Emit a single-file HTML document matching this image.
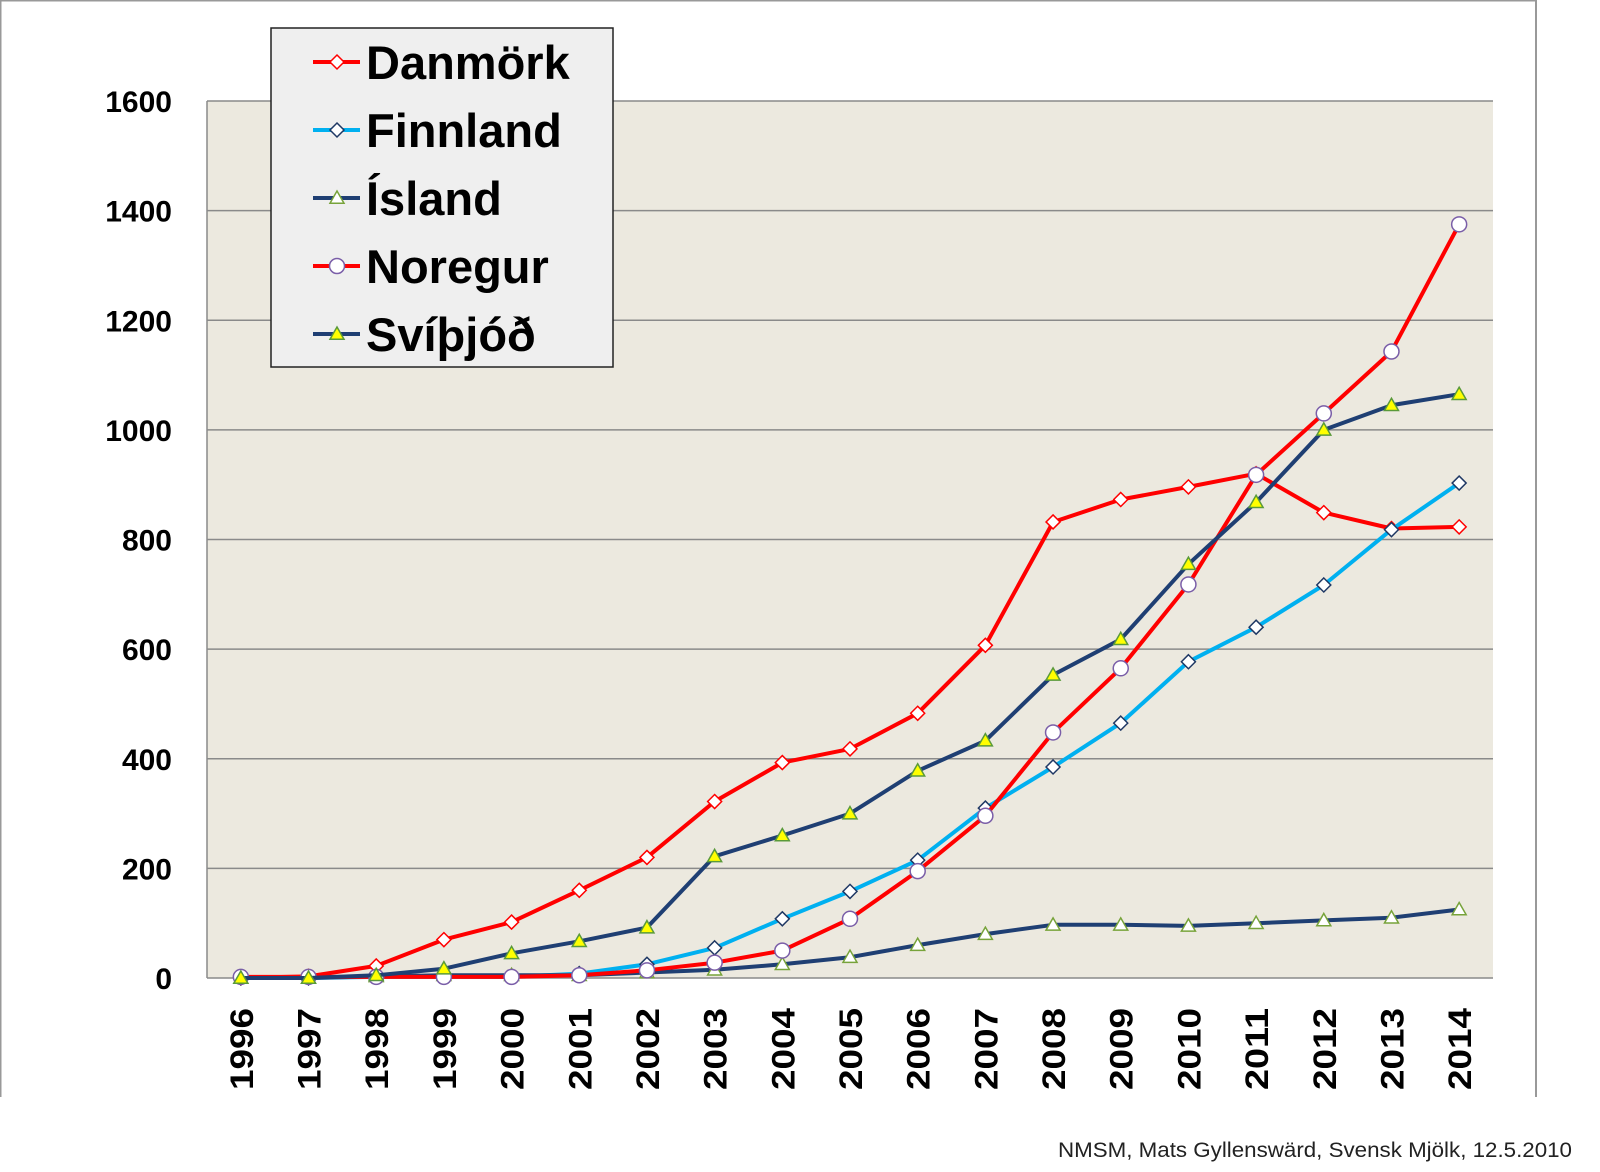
<!DOCTYPE html>
<html><head><meta charset="utf-8"><style>
html,body{margin:0;padding:0;background:#fff;}
svg{display:block;}
</style></head><body>
<svg id="c" width="1600" height="1172" xmlns="http://www.w3.org/2000/svg" font-family="Liberation Sans, Arial, sans-serif">
<line x1="0" y1="0.5" x2="1536" y2="0.5" stroke="#999" stroke-width="2"/>
<line x1="0.5" y1="0" x2="0.5" y2="1097" stroke="#999" stroke-width="2"/>
<line x1="1536" y1="0" x2="1536" y2="1097" stroke="#999" stroke-width="2"/>
<rect x="207" y="101" width="1286" height="877" fill="#ece9df"/>
<g id="grid"></g>
<g id="series"></g>
<g id="labels" font-weight="bold" font-size="30" fill="#000"></g>
<rect x="271" y="28" width="342" height="339" fill="#efefef" stroke="#222" stroke-width="1.5"/>
<g id="legend" font-weight="bold" font-size="47" fill="#000"></g>
<text x="1572" y="1157" text-anchor="end" font-size="21" fill="#222" textLength="514" lengthAdjust="spacingAndGlyphs">NMSM, Mats Gyllenswärd, Svensk Mjölk, 12.5.2010</text>
</svg>
<script>
const NS="http://www.w3.org/2000/svg";
function el(t,a,p,txt){const e=document.createElementNS(NS,t);for(const k in a)e.setAttribute(k,a[k]);if(txt!==undefined)e.textContent=txt;p.appendChild(e);return e;}
const L=207,R=1493,T=101,B=978;
const X=i=>L+(R-L)/19*(i+0.5);
const Y=v=>B-(B-T)*v/1600;
const grid=document.getElementById('grid'),lab=document.getElementById('labels');
for(let v=0;v<=1600;v+=200){
 el('line',{x1:L,x2:R,y1:Y(v),y2:Y(v),stroke:'#8a8a8a','stroke-width':1.5},grid);
 el('text',{x:172,y:Y(v)+11,'text-anchor':'end'},lab,String(v));
}
el('line',{x1:L,x2:L,y1:T,y2:B,stroke:'#8a8a8a','stroke-width':1.5},grid);
for(let i=0;i<19;i++){
 const x=X(i);
 el('text',{x:0,y:0,'text-anchor':'end','font-size':32,textLength:82,lengthAdjust:'spacingAndGlyphs',transform:`translate(${x+12},1008) rotate(-90)`},lab,String(1996+i));
}
const S=[
 {n:'Danmörk',c:'#ff0000',m:'dia',mf:'#fff',ms:'#ff0000',d:[0,3,22,70,102,160,220,322,393,418,483,607,832,873,896,920,849,820,823]},
 {n:'Finnland',c:'#00b0f0',m:'dia',mf:'#fff',ms:'#1f3864',d:[0,0,2,2,2,8,25,55,108,158,215,310,385,465,577,640,717,818,903]},
 {n:'Ísland',c:'#1f3f73',m:'tri',mf:'#fff',ms:'#77a33a',d:[0,0,3,5,5,5,10,15,25,38,60,80,97,97,95,100,105,110,125]},
 {n:'Noregur',c:'#ff0000',m:'cir',mf:'#fff',ms:'#7a5ea8',d:[2,2,2,2,2,5,14,28,50,108,195,296,448,565,718,918,1030,1143,1375]},
 {n:'Svíþjóð',c:'#1f3f73',m:'tri',mf:'#ffff00',ms:'#5a9a3a',d:[0,0,5,17,45,67,92,222,260,300,378,433,553,618,755,868,1000,1045,1065]}
];
function marker(g,m,x,y,f,s,sz){
 if(m==='dia')el('polygon',{points:`${x},${y-sz} ${x+sz},${y} ${x},${y+sz} ${x-sz},${y}`,fill:f,stroke:s,'stroke-width':1.5},g);
 else if(m==='tri')el('polygon',{points:`${x},${y-sz} ${x+sz},${y+sz*0.75} ${x-sz},${y+sz*0.75}`,fill:f,stroke:s,'stroke-width':1.5},g);
 else el('circle',{cx:x,cy:y,r:sz,fill:f,stroke:s,'stroke-width':1.5},g);
}
const sg=document.getElementById('series'),lg=document.getElementById('legend');
S.forEach((s,k)=>{
 const pts=s.d.map((v,i)=>`${X(i).toFixed(1)},${Y(v).toFixed(1)}`).join(' ');
 el('polyline',{points:pts,fill:'none',stroke:s.c,'stroke-width':4,'stroke-linejoin':'round'},sg);
 s.d.forEach((v,i)=>marker(sg,s.m,X(i),Y(v),s.mf,s.ms,s.m==='cir'?7.5:7));
 const cy=62+k*68;
 el('line',{x1:313,x2:360,y1:cy,y2:cy,stroke:s.c,'stroke-width':4},lg);
 marker(lg,s.m,337,cy,s.mf,s.ms,s.m==='cir'?7.5:7);
 el('text',{x:366,y:cy+17},lg,s.n);
});
</script>
</body></html>
